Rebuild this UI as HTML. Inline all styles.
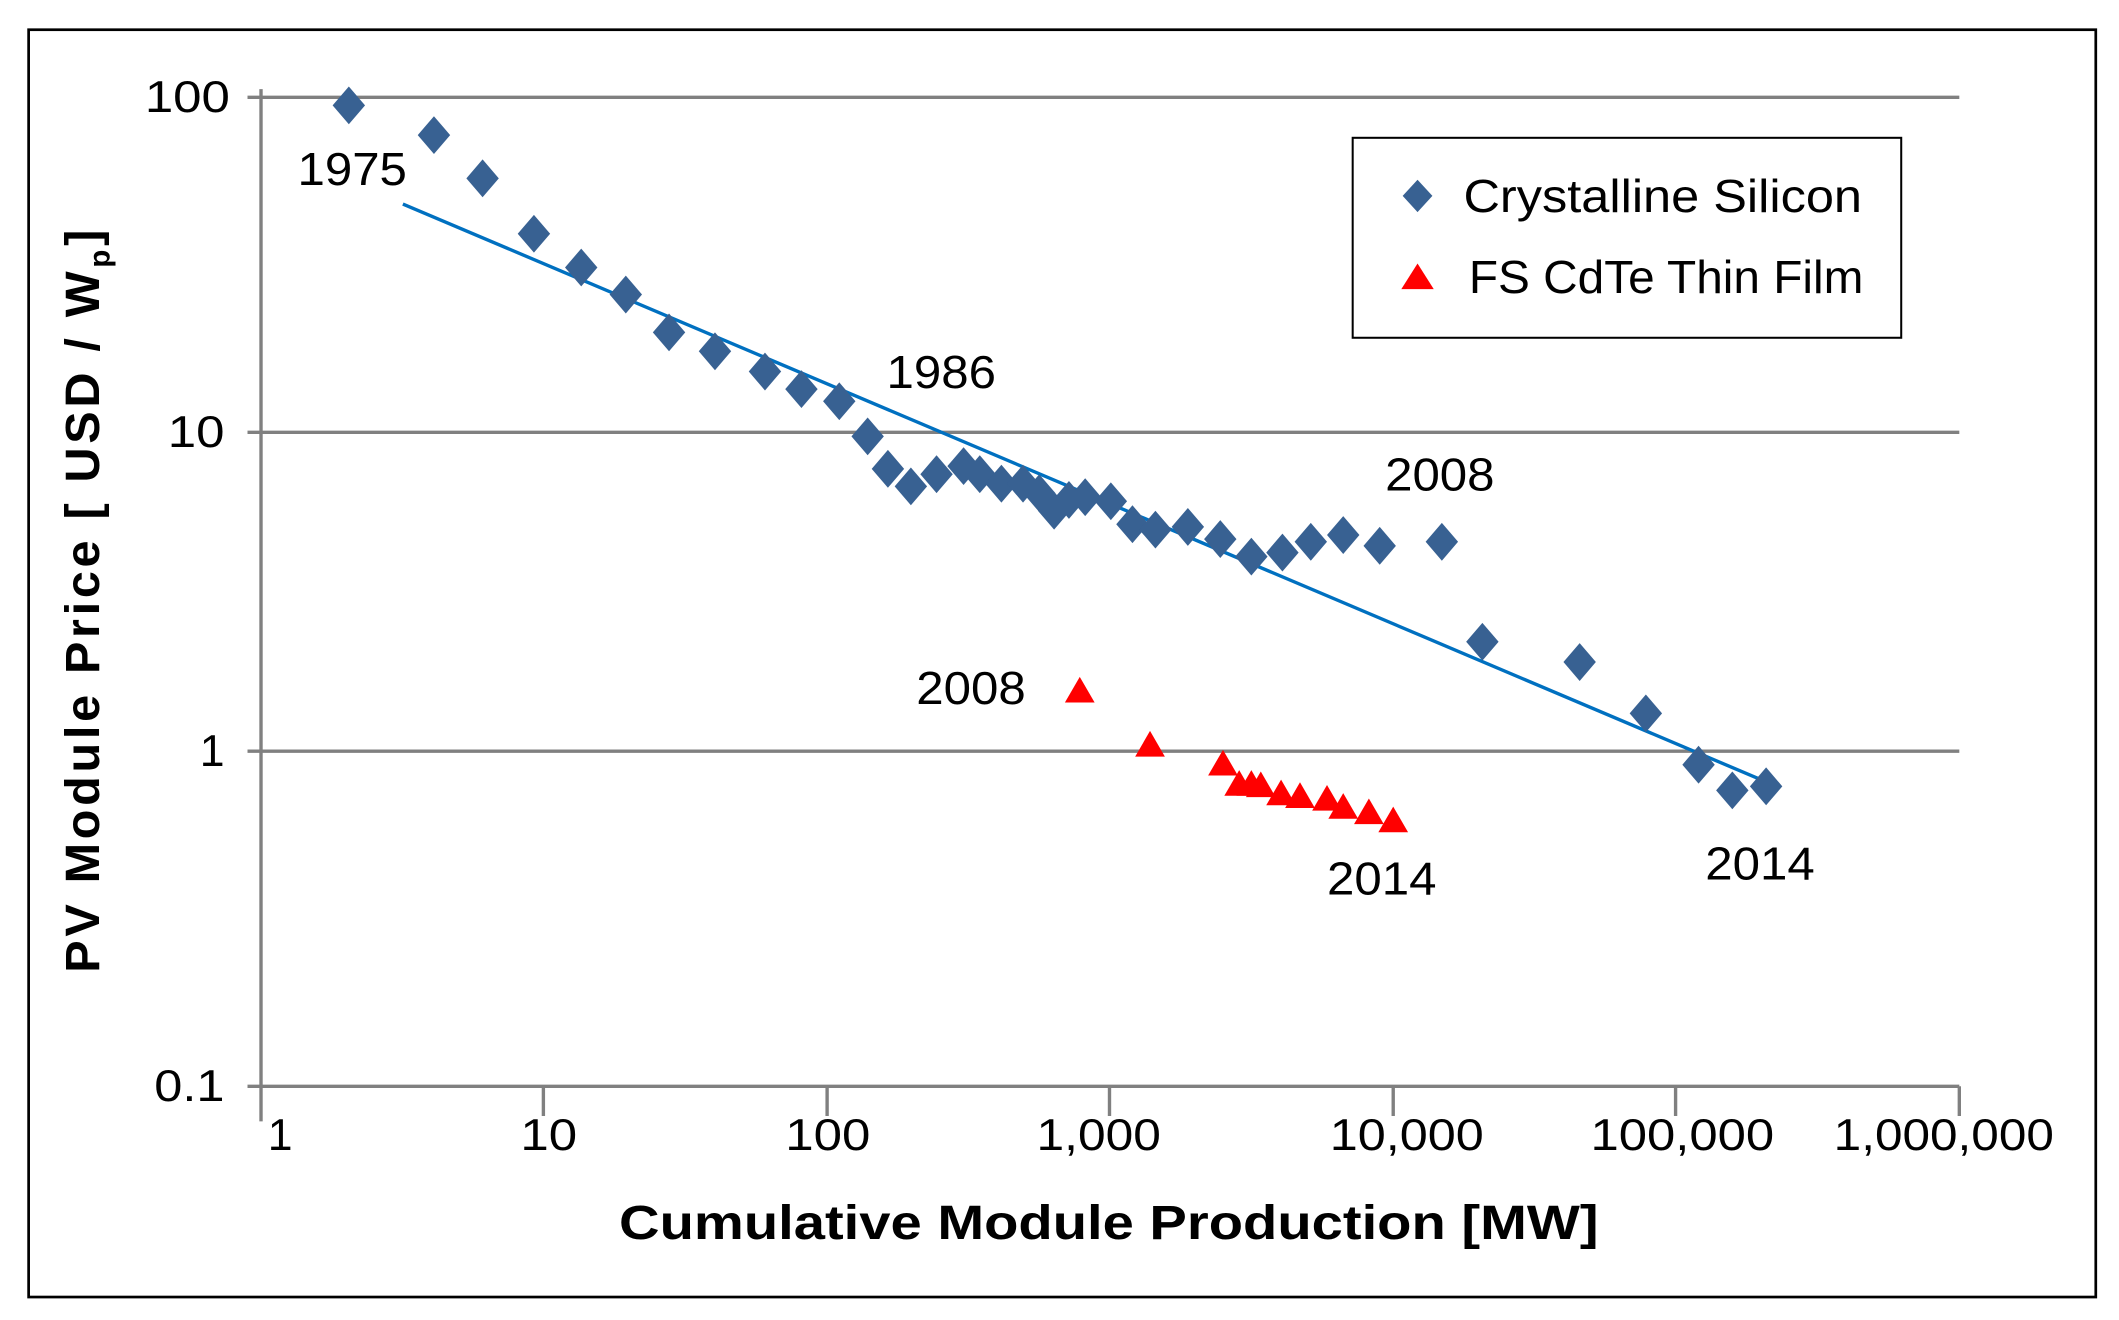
<!DOCTYPE html>
<html><head><meta charset="utf-8"><style>
html,body{margin:0;padding:0;background:#fff;}
svg{display:block;}
text{font-family:"Liberation Sans Narrow","Liberation Sans",sans-serif;}
</style></head><body>
<svg width="2119" height="1320" viewBox="0 0 1568 977" xmlns="http://www.w3.org/2000/svg" xmlns:xlink="http://www.w3.org/1999/xlink">
<defs>
<path id="dm" d="M0,-14 L12,0 L0,14 L-12,0Z" fill="#386192"/>
<path id="tr" d="M0,-10 L11,9 L-11,9Z" fill="#FF0000"/>
</defs>
<rect x="0" y="0" width="1568" height="977" fill="#fff"/>
<rect x="21" y="22" width="1530" height="938" fill="none" stroke="#000" stroke-width="2"/>
<g stroke="#808080" stroke-width="2.5">
<line x1="183" y1="72" x2="1450" y2="72"/>
<line x1="183" y1="320" x2="1450" y2="320"/>
<line x1="183" y1="556" x2="1450" y2="556"/>
<line x1="183" y1="804" x2="1450" y2="804"/>
<line x1="193" y1="66" x2="193" y2="830"/>
<line x1="402" y1="804" x2="402" y2="826"/>
<line x1="612" y1="804" x2="612" y2="826"/>
<line x1="821" y1="804" x2="821" y2="826"/>
<line x1="1031" y1="804" x2="1031" y2="826"/>
<line x1="1240" y1="804" x2="1240" y2="826"/>
<line x1="1450" y1="804" x2="1450" y2="826"/>
</g>
<g font-size="33" fill="#000" text-anchor="end">
<text x="170" y="83" textLength="63" lengthAdjust="spacingAndGlyphs">100</text>
<text x="166" y="331" textLength="42" lengthAdjust="spacingAndGlyphs">10</text>
<text x="166" y="567">1</text>
<text x="166" y="815" textLength="52" lengthAdjust="spacingAndGlyphs">0.1</text>
</g>
<g font-size="33" fill="#000">
<text x="198" y="851">1</text>
<text x="385" y="851" textLength="42" lengthAdjust="spacingAndGlyphs">10</text>
<text x="581" y="851" textLength="63" lengthAdjust="spacingAndGlyphs">100</text>
<text x="767" y="851" textLength="92" lengthAdjust="spacingAndGlyphs">1,000</text>
<text x="984" y="851" textLength="114" lengthAdjust="spacingAndGlyphs">10,000</text>
<text x="1177" y="851" textLength="136" lengthAdjust="spacingAndGlyphs">100,000</text>
<text x="1357" y="851" textLength="163" lengthAdjust="spacingAndGlyphs">1,000,000</text>
</g>
<text x="458" y="917" font-size="36" font-weight="bold" fill="#000" textLength="725" lengthAdjust="spacingAndGlyphs">Cumulative Module Production [MW]</text>
<text transform="translate(73,720) rotate(-90)" font-size="36" font-weight="bold" fill="#000" textLength="550" lengthAdjust="spacing">PV Module Price [ USD / W<tspan font-size="22" dy="8">p</tspan><tspan dy="-8">]</tspan></text>
<line x1="298" y1="151" x2="1303" y2="577" stroke="#0070C0" stroke-width="2.5"/>
<use xlink:href="#dm" x="258" y="78"/><use xlink:href="#dm" x="321" y="100"/><use xlink:href="#dm" x="357" y="132"/>
<use xlink:href="#dm" x="395" y="173"/><use xlink:href="#dm" x="430" y="198"/><use xlink:href="#dm" x="463" y="218"/>
<use xlink:href="#dm" x="495" y="246"/><use xlink:href="#dm" x="529" y="260"/><use xlink:href="#dm" x="566" y="275"/>
<use xlink:href="#dm" x="593" y="288"/><use xlink:href="#dm" x="621" y="297"/><use xlink:href="#dm" x="642" y="323"/>
<use xlink:href="#dm" x="657" y="347"/><use xlink:href="#dm" x="674" y="360"/><use xlink:href="#dm" x="693" y="351"/>
<use xlink:href="#dm" x="713" y="345"/><use xlink:href="#dm" x="725" y="351"/><use xlink:href="#dm" x="741" y="358"/>
<use xlink:href="#dm" x="757" y="358"/><use xlink:href="#dm" x="769" y="365"/><use xlink:href="#dm" x="780" y="378"/>
<use xlink:href="#dm" x="791" y="370"/><use xlink:href="#dm" x="803" y="368"/><use xlink:href="#dm" x="822" y="371"/>
<use xlink:href="#dm" x="838" y="388"/><use xlink:href="#dm" x="855" y="392"/><use xlink:href="#dm" x="879" y="390"/>
<use xlink:href="#dm" x="903" y="399"/><use xlink:href="#dm" x="926" y="412"/><use xlink:href="#dm" x="949" y="409"/>
<use xlink:href="#dm" x="970" y="401"/><use xlink:href="#dm" x="994" y="396"/><use xlink:href="#dm" x="1021" y="404"/>
<use xlink:href="#dm" x="1067" y="401"/><use xlink:href="#dm" x="1097" y="475"/><use xlink:href="#dm" x="1169" y="490"/>
<use xlink:href="#dm" x="1218" y="528"/><use xlink:href="#dm" x="1257" y="566"/><use xlink:href="#dm" x="1282" y="585"/>
<use xlink:href="#dm" x="1307" y="582"/>
<use xlink:href="#tr" x="799" y="511"/><use xlink:href="#tr" x="851" y="551"/><use xlink:href="#tr" x="905" y="565"/>
<use xlink:href="#tr" x="917" y="580"/><use xlink:href="#tr" x="926" y="580"/><use xlink:href="#tr" x="933" y="581"/>
<use xlink:href="#tr" x="948" y="587"/><use xlink:href="#tr" x="962" y="589"/><use xlink:href="#tr" x="982" y="591"/>
<use xlink:href="#tr" x="994" y="597"/><use xlink:href="#tr" x="1013" y="601"/><use xlink:href="#tr" x="1031" y="607"/>
<g font-size="34" fill="#000">
<text x="220" y="137" textLength="81" lengthAdjust="spacingAndGlyphs">1975</text>
<text x="656" y="287" textLength="81" lengthAdjust="spacingAndGlyphs">1986</text>
<text x="1025" y="363" textLength="81" lengthAdjust="spacingAndGlyphs">2008</text>
<text x="678" y="521" textLength="81" lengthAdjust="spacingAndGlyphs">2008</text>
<text x="982" y="662" textLength="81" lengthAdjust="spacingAndGlyphs">2014</text>
<text x="1262" y="651" textLength="81" lengthAdjust="spacingAndGlyphs">2014</text>
</g>
<rect x="1001" y="102" width="406" height="148" fill="#fff" stroke="#000" stroke-width="1.5"/>
<path d="M0,-12 L11,0 L0,12 L-11,0Z" transform="translate(1049,145)" fill="#386192"/>
<path d="M0,-10 L12,9 L-12,9Z" transform="translate(1049,205)" fill="#FF0000"/>
<g font-size="34" fill="#000">
<text x="1083" y="157" textLength="295" lengthAdjust="spacingAndGlyphs">Crystalline Silicon</text>
<text x="1087" y="217" textLength="292" lengthAdjust="spacingAndGlyphs">FS CdTe Thin Film</text>
</g>
</svg>
</body></html>
